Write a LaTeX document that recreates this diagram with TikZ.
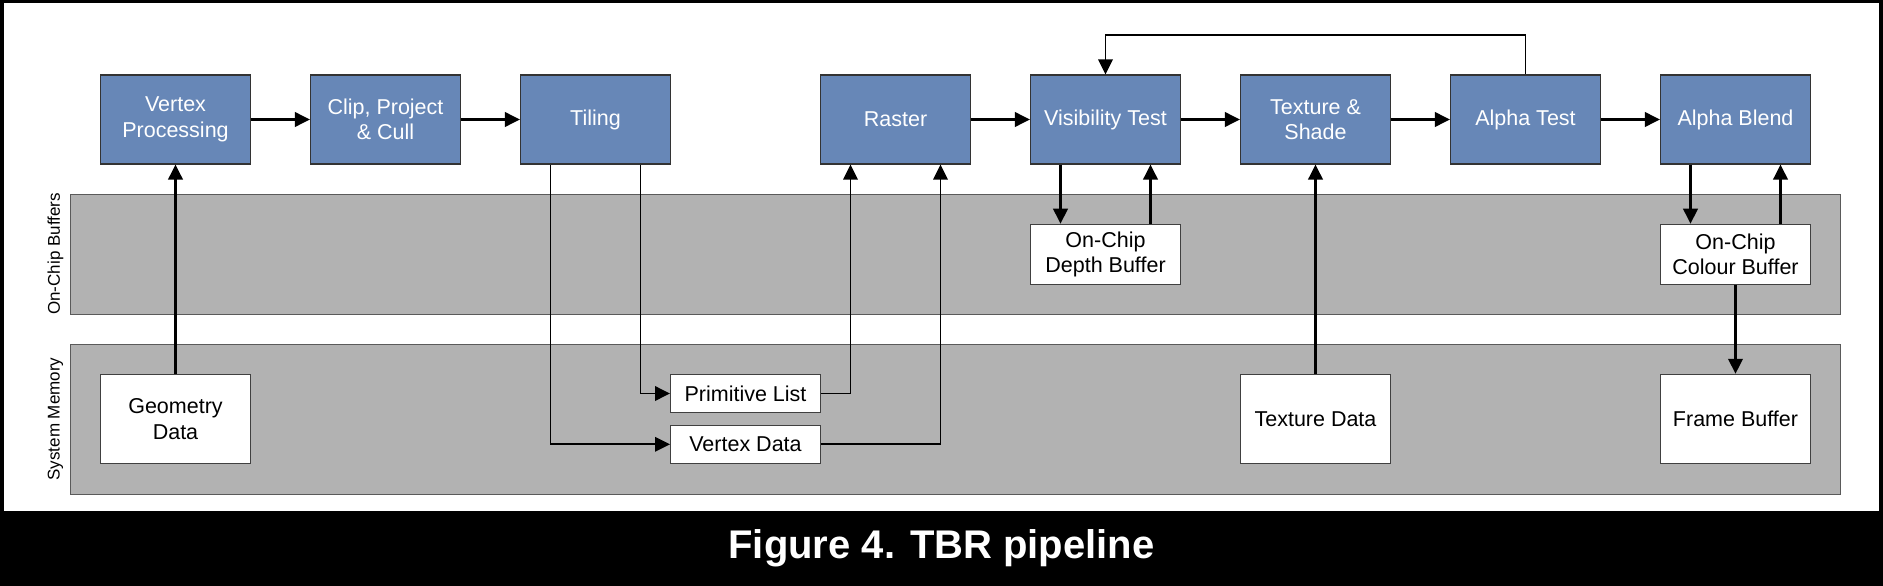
\documentclass[tikz,border=0pt]{standalone}
\usepackage{fontspec}
\setmainfont{Liberation Sans}
\usetikzlibrary{arrows.meta}
\definecolor{boxblue}{RGB}{103,135,183}
\definecolor{bandgray}{RGB}{178,178,178}
\definecolor{bandedge}{RGB}{90,90,90}
\begin{document}
\begin{tikzpicture}[x=1pt,y=-1pt,
  stage/.style={draw=black!80,line width=1.2pt,fill=boxblue,text=white,minimum width=150pt,minimum height=89pt,inner sep=0pt,align=center,font=\fontsize{21.5}{25.5}\selectfont},
  store/.style={draw=black!75,line width=1pt,fill=white,text=black,minimum width=150pt,minimum height=89.5pt,inner sep=0pt,align=center,font=\fontsize{21.5}{25.5}\selectfont},
  buf/.style={store,minimum height=60pt},
  small/.style={store,minimum height=38.5pt},
  band/.style={draw=bandedge,line width=1pt,fill=bandgray},
  sidelabel/.style={rotate=90,font=\fontsize{17}{19}\selectfont,inner sep=0pt},
  arr/.style={line width=2.4pt,-{Triangle[length=15pt,width=14.5pt]}},
  arrthin/.style={line width=1.9pt,-{Triangle[length=15pt,width=14.5pt]}},
  plain/.style={line width=1.9pt}
]
\useasboundingbox (0,0) rectangle (1883,586);
% frame and caption band
\fill[black] (0,0) rectangle (1883,586);
\fill[white] (3.5,3) rectangle (1879,510.5);
\node[text=white,font=\fontsize{40}{45}\bfseries\selectfont] (cap) at (941.5,548.5) {Figure 4. TBR pipeline};
% bands
\draw[band] (70.5,194) rectangle (1840.7,314);
\draw[band] (70.5,344) rectangle (1840.7,494);
\node[sidelabel] (lab1) at (55.5,254) {On-Chip Buffers};
\node[sidelabel] (lab2) at (55.5,419) {System Memory};
% pipeline stages
\node[stage] (vp) at (175.5,119.5) {Vertex\\Processing};
\node[stage] (cpc) at (385.5,119.5) {Clip, Project\\\& Cull};
\node[stage] (til) at (595.5,119.5) {Tiling};
\node[stage] (ras) at (895.5,119.5) {Raster};
\node[stage] (vis) at (1105.5,119.5) {Visibility Test};
\node[stage] (tex) at (1315.5,119.5) {Texture \&\\Shade};
\node[stage] (at) at (1525.5,119.5) {Alpha Test};
\node[stage] (ab) at (1735.5,119.5) {Alpha Blend};
% buffers
\node[buf] (depth) at (1105.5,254.2) {On-Chip\\Depth Buffer};
\node[buf] (colour) at (1735.5,254.2) {On-Chip\\Colour Buffer};
% memory
\node[store] (geo) at (175.5,419) {Geometry\\Data};
\node[small] (prim) at (745.5,393.5) {Primitive List};
\node[small] (vdat) at (745.5,444.3) {Vertex Data};
\node[store] (texd) at (1315.5,419) {Texture Data};
\node[store] (fb) at (1735.5,419) {Frame Buffer};
% main flow
\draw[arr] (vp) -- (cpc);
\draw[arr] (cpc) -- (til);
\draw[arr] (ras) -- (vis);
\draw[arr] (vis) -- (tex);
\draw[arr] (tex) -- (at);
\draw[arr] (at) -- (ab);
% memory links
\draw[arr] (geo) -- (vp);
\draw[arrthin] ([xshift=45pt]til.south) |- (prim.west);
\draw[arrthin] ([xshift=-45pt]til.south) |- (vdat.west);
\draw[arrthin] (prim.east) -| ([xshift=-45pt]ras.south);
\draw[arrthin] (vdat.east) -| ([xshift=45pt]ras.south);
\draw[arr] ([xshift=-45pt]vis.south) -- ([xshift=-45pt]depth.north);
\draw[arr] ([xshift=45pt]depth.north) -- ([xshift=45pt]vis.south);
\draw[arr] (texd) -- (tex);
\draw[arr] ([xshift=-45pt]ab.south) -- ([xshift=-45pt]colour.north);
\draw[arr] ([xshift=45pt]colour.north) -- ([xshift=45pt]ab.south);
\draw[arr] (colour) -- (fb);
% feedback
\coordinate (fbk) at (1525.5,35);
\draw[arrthin] (at.north) -- (at.north |- fbk) -| (vis.north);
\end{tikzpicture}
\end{document}
